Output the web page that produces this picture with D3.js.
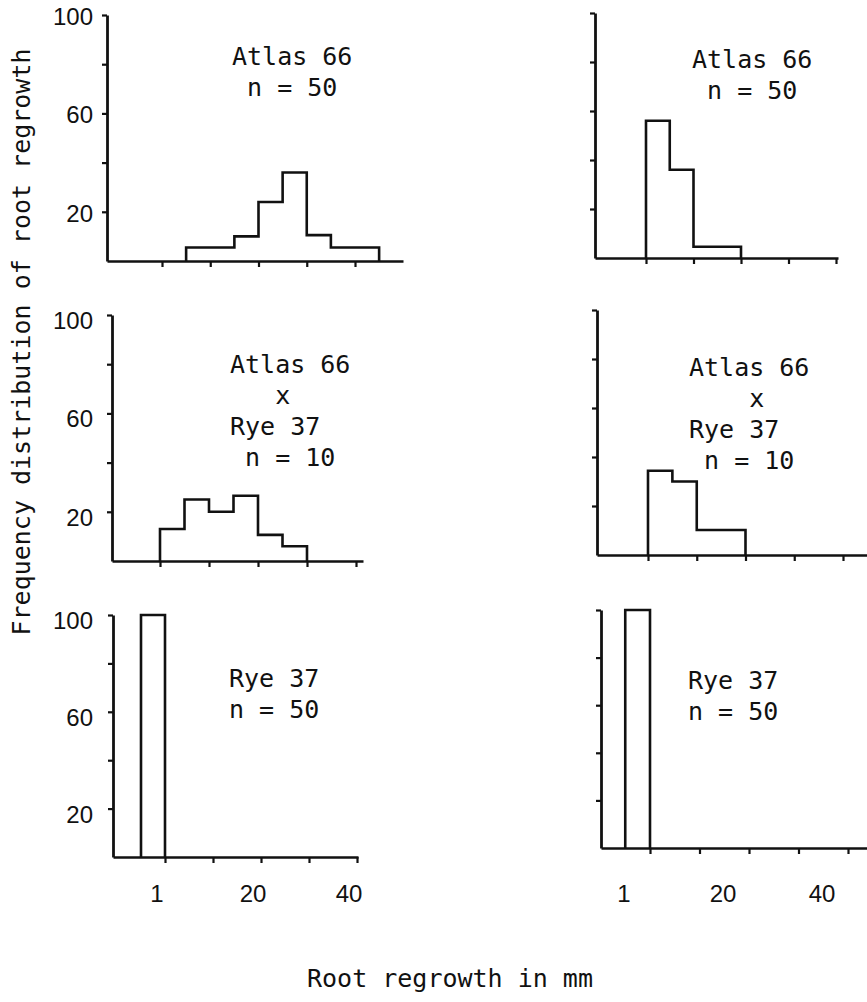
<!DOCTYPE html>
<html>
<head>
<meta charset="utf-8">
<script src="https://cdn.jsdelivr.net/npm/d3@7/dist/d3.min.js"></script>
<style>
  html, body { margin: 0; padding: 0; background: #fff; }
  svg { display: block; }
  .lbl { font-family: "DejaVu Sans Mono", "Liberation Mono", monospace; font-size: 25px; fill: #111; white-space: pre; }
  .tick-lbl { font-family: "Liberation Sans", Arial, sans-serif; font-size: 24px; fill: #111; }
</style>
</head>
<body>
<svg id="chart" width="867" height="1002"></svg>
<script>
// Root regrowth classes (mm); class k occupies [k, k+1] on the class axis
const classes = ["<1", "1-5", "5-10", "10-15", "15-20", "20-25", "25-30", "30-35", "35-40", "40-45"];

// Class boundaries carrying x ticks, and their labels (bottom row only)
const xTickBounds = [1, 3, 5, 7, 9];
const xTickLabels = ["1", "", "20", "", "40"];

// Y ticks (percent) and the ones that carry labels (left column only)
const yTicks = [20, 40, 60, 80, 100];
const yLabelTicks = [20, 60, 100];

// Frequency (%) per class
const atlasLeft  = [0, 0, 5.5, 5.5, 10, 24, 36, 10.5, 5.5, 5.5];
const atlasRight = [0, 56, 36, 4.6, 4.6, 0, 0, 0, 0, 0];
const crossLeft  = [0, 13, 25, 20, 26.5, 10.6, 6, 0, 0, 0];
const crossRight = [0, 34.4, 30, 10.2, 10.2, 0, 0, 0, 0, 0];
const ryeLeft    = [100, 0, 0, 0, 0, 0, 0, 0, 0, 0];
const ryeRight   = [100, 0, 0, 0, 0, 0, 0, 0, 0, 0];

// Panel captions
const atlasText = ["Atlas 66", " n = 50"];
const crossText = ["Atlas 66", "   x", "Rye 37", " n = 10"];
const crossTextR = ["Atlas 66", "    x", "Rye 37", " n = 10"];
const ryeText   = ["Rye 37", "n = 50"];

const yTitle = "Frequency distribution of root regrowth";
const xTitle = "Root regrowth in mm";

// Panel geometry
const panels = [
  { values: atlasLeft,  text: atlasText,  x0: 107, xEnd: 403, x1: 162, x40: 355, yTop: 15,  yBase: 261, tx: 232, ty: 65,  yLabels: true,  ylDy: 10, xLabels: false },
  { values: atlasRight, text: atlasText,  x0: 595, xEnd: 838, x1: 646, x40: 836, yTop: 13,  yBase: 258, tx: 692, ty: 68,  yLabels: false, xLabels: false },
  { values: crossLeft,  text: crossText,  x0: 112, xEnd: 363, x1: 160, x40: 356, yTop: 315, yBase: 561, tx: 230, ty: 373, yLabels: true,  ylDy: 14, xLabels: false },
  { values: crossRight, text: crossTextR, x0: 597, xEnd: 867, x1: 648, x40: 843, yTop: 310, yBase: 555, tx: 689, ty: 376, yLabels: false, xLabels: false },
  { values: ryeLeft,    text: ryeText,    x0: 113, xEnd: 358, x1: 165, x40: 357, yTop: 615, yBase: 857, tx: 229, ty: 687, yLabels: true,  ylDy: 14, xLabels: true, xlDx: -8 },
  { values: ryeRight,   text: ryeText,    x0: 601, xEnd: 867, x1: 650, x40: 848, yTop: 610, yBase: 848, tx: 688, ty: 689, yLabels: false, xLabels: true, xlDx: -26 }
];

const svg = d3.select("#chart");
const lineGen = d3.line();

panels.forEach(p => {
  const g = svg.append("g");

  const base = d3.scaleLinear().domain([1, 9]).range([p.x1, p.x40]);
  const x = d3.scaleLinear().domain([base.invert(p.x0), base.invert(p.xEnd)]).range([p.x0, p.xEnd]);
  const y = d3.scaleLinear().domain([0, 100]).range([p.yBase, p.yTop]);

  // x axis
  const xAxis = g.append("g")
    .attr("transform", `translate(0,${p.yBase})`)
    .call(d3.axisBottom(x).tickValues(xTickBounds).tickSize(6).tickSizeOuter(0).tickFormat(""));
  xAxis.select(".domain").attr("stroke", "#111").attr("stroke-width", 2.6);
  xAxis.selectAll(".tick line").attr("stroke", "#111").attr("stroke-width", 2.2);

  // y axis
  const yAxis = g.append("g")
    .attr("transform", `translate(${p.x0},0)`)
    .call(d3.axisLeft(y).tickValues(yTicks).tickSize(5).tickSizeOuter(0).tickFormat(""));
  yAxis.select(".domain").attr("stroke", "#111").attr("stroke-width", 2.8);
  yAxis.selectAll(".tick line").attr("stroke", "#111").attr("stroke-width", 2.2);

  // histogram outline
  const idx = p.values.map((v, i) => i).filter(i => p.values[i] > 0);
  const first = d3.min(idx), last = d3.max(idx);
  const pts = [[x(first), y(0)]];
  for (let i = first; i <= last; i++) {
    pts.push([x(i), y(p.values[i])]);
    pts.push([x(i + 1), y(p.values[i])]);
  }
  pts.push([x(last + 1), y(0)]);
  g.append("path")
    .attr("d", lineGen(pts))
    .attr("fill", "none")
    .attr("stroke", "#111")
    .attr("stroke-width", 2.6)
    .attr("stroke-linejoin", "miter");

  // caption
  g.append("text")
    .attr("class", "lbl")
    .attr("x", p.tx)
    .attr("y", p.ty)
    .selectAll("tspan")
    .data(p.text)
    .join("tspan")
    .attr("x", p.tx)
    .attr("dy", (d, i) => i === 0 ? 0 : 31)
    .text(d => d);

  if (p.yLabels) {
    g.selectAll(".ylab")
      .data(yLabelTicks)
      .join("text")
      .attr("class", "tick-lbl")
      .attr("text-anchor", "end")
      .attr("x", 93)
      .attr("y", d => y(d) + p.ylDy)
      .text(d => d);
  }

  if (p.xLabels) {
    g.selectAll(".xlab")
      .data(xTickBounds.map((b, i) => ({ b, t: xTickLabels[i] })).filter(d => d.t))
      .join("text")
      .attr("class", "tick-lbl")
      .attr("text-anchor", "middle")
      .attr("x", d => x(d.b) + p.xlDx)
      .attr("y", 902)
      .text(d => d.t);
  }
});

// axis titles
svg.append("text")
  .attr("class", "lbl")
  .attr("text-anchor", "middle")
  .attr("transform", "translate(30,342) rotate(-90)")
  .text(yTitle);

svg.append("text")
  .attr("class", "lbl")
  .attr("text-anchor", "middle")
  .attr("x", 450)
  .attr("y", 987)
  .text(xTitle);
</script>
</body>
</html>
